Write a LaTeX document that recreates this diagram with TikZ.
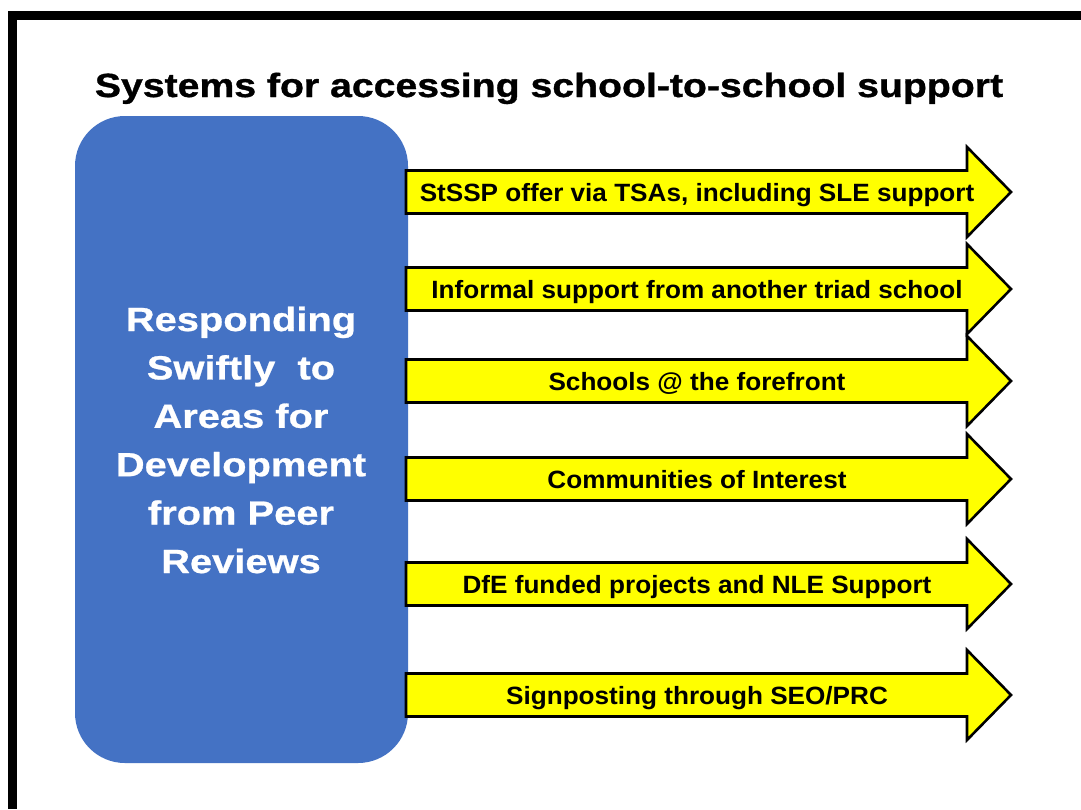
\documentclass[tikz,border=0pt]{standalone}
\usepackage{fontspec}
\setmainfont{Liberation Sans}
\newfontfamily\titlefont{Liberation Sans}[FakeStretch=1.17,FakeBold=1]
\newfontfamily\boxfont{Liberation Sans}[FakeStretch=1.19,FakeBold=0.8]
\newfontfamily\arrowfont{Liberation Sans}[FakeStretch=1.045]
\definecolor{boxblue}{HTML}{4472C4}
\definecolor{arrowyellow}{HTML}{FFFF00}
\tikzset{
  bigarrow/.style={fill=arrowyellow, draw=black, line width=2.6pt, line join=miter},
  arrowtext/.style={font=\arrowfont\bfseries\fontsize{25}{28}\selectfont, text=black, inner sep=0pt, anchor=base},
  boxtext/.style={font=\boxfont\bfseries\fontsize{33.5}{40}\selectfont, text=white, inner sep=0pt, anchor=base},
}
\begin{document}
\begin{tikzpicture}[x=1pt,y=-1pt]
\useasboundingbox (0,0) rectangle (1081,809);
\fill[white] (0,0) rectangle (1081,809);
\fill[black] (8,11) rectangle (1081,19.5);
\fill[black] (8,11) rectangle (17,809);
\node[font=\titlefont\bfseries\fontsize{33.5}{36}\selectfont, inner sep=0pt, anchor=base] (title) at (549,97) {Systems for accessing school-to-school support};
\fill[boxblue, rounded corners=50pt] (75,116) rectangle (408,763);
\foreach \j/\by/\bt in {1/331/Responding, 2/379.4/{Swiftly\ \ to}, 3/427.8/{Areas for},
                        4/476.2/Development, 5/524.6/{from Peer}, 6/573/Reviews} {
  \node[boxtext] (b\j) at (241,\by) {\bt};
}
\foreach \i/\y/\t in {1/192/{StSSP offer via TSAs, including SLE support},
                      2/289/{Informal support from another triad school},
                      3/381/{Schools @ the forefront},
                      4/479/{Communities of Interest},
                      5/584/{DfE funded projects and NLE Support},
                      6/695/{Signposting through SEO/PRC}} {
  \draw[bigarrow] (406,{\y-21.5}) -- (967,{\y-21.5}) -- (967,{\y-45}) -- (1011,\y) -- (967,{\y+45}) -- (967,{\y+21.5}) -- (406,{\y+21.5}) -- cycle;
  \node[arrowtext] (a\i) at (697,{\y+9}) {\t};
}
\end{tikzpicture}
\end{document}
